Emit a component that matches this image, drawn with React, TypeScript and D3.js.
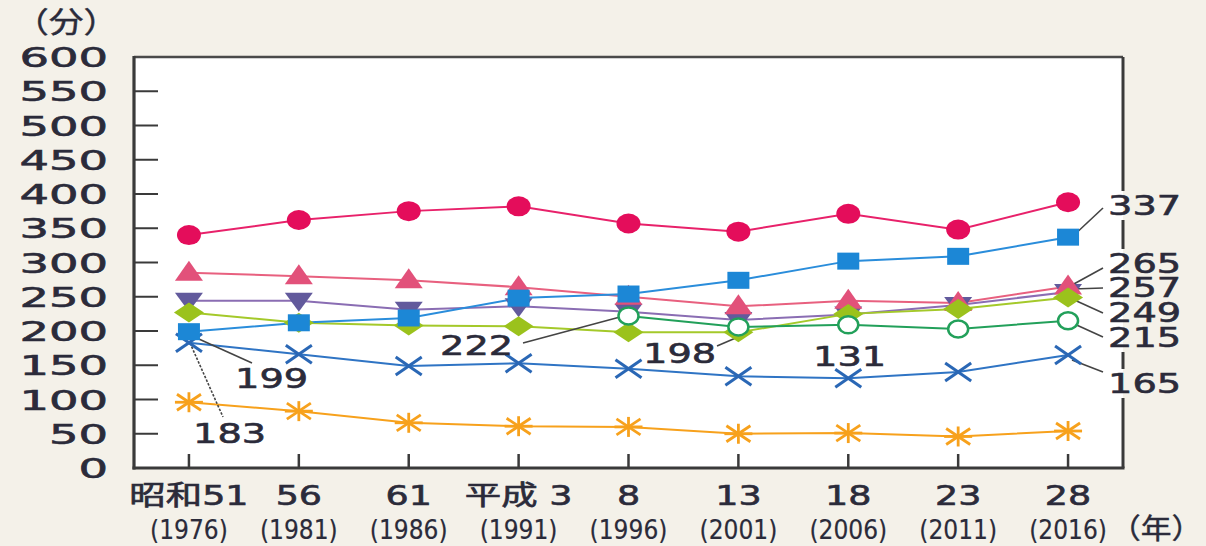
import React from "react";
import * as d3 from "d3";

const categories = ["昭和51", "56", "61", "平成 3", "8", "13", "18", "23", "28"];
const years = ["(1976)", "(1981)", "(1986)", "(1991)", "(1996)", "(2001)", "(2006)", "(2011)", "(2016)"];
const yTicks = [0, 50, 100, 150, 200, 250, 300, 350, 400, 450, 500, 550, 600];

const redCircle = [340, 362, 375, 382, 357, 345, 371, 348, 388];
const blueSquare = [199, 212, 219, 248, 254, 274, 302, 309, 337];
const pinkTriangle = [285, 280, 274, 264, 250, 236, 244, 241, 265];
const purpleTriangle = [244, 244, 231, 236, 228, 216, 224, 238, 257];
const greenDiamond = [227, 212, 208, 207, 198, 198, 225, 232, 249];
const greenOpen: (number | null)[] = [null, null, null, null, 222, 206, 209, 203, 215];
const blueCross = [183, 166, 149, 153, 145, 134, 131, 140, 165];
const orangeStar = [96, 83, 66, 61, 60, 50, 51, 46, 54];

type Series = { name: string; values: (number | null)[]; color: string; marker: string; line: string };
const series: Series[] = [
  { name: "orange", values: orangeStar, color: "#f7a11c", line: "#f7a11c", marker: "star" },
  { name: "cross", values: blueCross, color: "#2a67b5", line: "#2f74c4", marker: "cross" },
  { name: "purple", values: purpleTriangle, color: "#625a9c", line: "#8a6db3", marker: "inv" },
  { name: "pink", values: pinkTriangle, color: "#e2517a", line: "#e8607f", marker: "tri" },
  { name: "diamond", values: greenDiamond, color: "#9bc21c", line: "#a4c92a", marker: "diamond" },
  { name: "open", values: greenOpen, color: "#22a05a", line: "#22a05a", marker: "open" },
  { name: "square", values: blueSquare, color: "#1c87d6", line: "#2a8ddb", marker: "square" },
  { name: "red", values: redCircle, color: "#e40d5b", line: "#e8216a", marker: "circle" },
];

type Ann = { values: (number | null)[]; idx: number; lx: number; ly: number; ex?: number; ey?: number; sx?: number; sy?: number; dash?: string; right?: boolean };
const annotations: Ann[] = [
  { values: blueSquare, idx: 0, lx: 235, ly: 388, sx: 190, sy: 335, ex: 252, ey: 363 },
  { values: blueCross, idx: 0, lx: 193, ly: 443, sx: 190, sy: 343, ex: 223, ey: 417, dash: "2.5 1.5" },
  { values: greenOpen, idx: 4, lx: 440, ly: 355, sx: 620, sy: 317, ex: 523, ey: 343 },
  { values: greenDiamond, idx: 5, lx: 643, ly: 363, sx: 738, sy: 337, ex: 717, ey: 346 },
  { values: blueCross, idx: 6, lx: 813, ly: 366 },
  { values: blueSquare, idx: 8, lx: 1108, ly: 215, sx: 1072, sy: 237, ex: 1103, ey: 208, right: true },
  { values: pinkTriangle, idx: 8, lx: 1108, ly: 273, sx: 1072, sy: 285, ex: 1103, ey: 268, right: true },
  { values: purpleTriangle, idx: 8, lx: 1108, ly: 297, sx: 1073, sy: 289, ex: 1103, ey: 288, right: true },
  { values: greenDiamond, idx: 8, lx: 1108, ly: 322, sx: 1070, sy: 298, ex: 1103, ey: 313, right: true },
  { values: greenOpen, idx: 8, lx: 1108, ly: 347, sx: 1070, sy: 322, ex: 1103, ey: 337, right: true },
  { values: blueCross, idx: 8, lx: 1108, ly: 393, sx: 1072, sy: 360, ex: 1103, ey: 372, right: true },
];

const W = 1206, H = 546;
const L = 134, R = 1123, T = 57, B = 468;
const TXT = "#2b2b3a";
const FONT = "'DejaVu Sans', 'Noto Sans CJK JP', sans-serif";

const x = d3.scalePoint<string>().domain(categories).range([L, R]).padding(0.5);
const y = d3.scaleLinear().domain([0, 600]).range([B, T]);

function Txt({ x, y, size, sx, anchor = "start", children, family = FONT, bold = 0.6 }: any) {
  return (
    <text
      transform={`translate(${x},${y}) scale(${sx},1)`}
      fontSize={size}
      fontFamily={family}
      fill={TXT}
      stroke={TXT}
      strokeWidth={bold}
      textAnchor={anchor}
    >
      {children}
    </text>
  );
}

function Marker({ type, cx, cy, color }: { type: string; cx: number; cy: number; color: string }) {
  switch (type) {
    case "circle":
      return <ellipse cx={cx} cy={cy} rx={12} ry={10} fill={color} />;
    case "square":
      return <rect x={cx - 11} y={cy - 8.5} width={22} height={17} fill={color} />;
    case "tri":
      return <polygon points={`${cx},${cy - 12} ${cx + 14},${cy + 8} ${cx - 14},${cy + 8}`} fill={color} />;
    case "inv":
      return <polygon points={`${cx - 14},${cy - 8} ${cx + 14},${cy - 8} ${cx},${cy + 11}`} fill={color} />;
    case "diamond":
      return <polygon points={`${cx - 15},${cy} ${cx},${cy - 10} ${cx + 15},${cy} ${cx},${cy + 10}`} fill={color} />;
    case "open":
      return <ellipse cx={cx} cy={cy} rx={10} ry={8.5} fill="#fff" stroke={color} strokeWidth={2.5} />;
    case "cross":
      return (
        <g stroke={color} strokeWidth={3}>
          <line x1={cx - 13} y1={cy - 9} x2={cx + 13} y2={cy + 9} />
          <line x1={cx - 13} y1={cy + 9} x2={cx + 13} y2={cy - 9} />
        </g>
      );
    case "star":
      return (
        <g stroke={color} strokeWidth={2.8}>
          <line x1={cx - 12} y1={cy - 8} x2={cx + 12} y2={cy + 8} />
          <line x1={cx - 12} y1={cy + 8} x2={cx + 12} y2={cy - 8} />
          <line x1={cx - 14} y1={cy} x2={cx + 14} y2={cy} />
          <line x1={cx} y1={cy - 10} x2={cx} y2={cy + 10} />
        </g>
      );
    default:
      return null;
  }
}

export default function App() {
  const line = d3
    .line<number | null>()
    .defined((d) => d !== null)
    .x((_, i) => x(categories[i]) as number)
    .y((d) => y(d as number));

  const gaps = annotations.filter((a) => a.right).map((a) => [a.ly - 24, a.ly + 5]).sort((a, b) => a[0] - b[0]);
  const segs: [number, number][] = [];
  let cur = T;
  gaps.forEach(([g0, g1]) => {
    if (g0 > cur) segs.push([cur, g0]);
    cur = Math.max(cur, g1);
  });
  if (cur < B) segs.push([cur, B]);

  return (
    <svg width={W} height={H} style={{ position: "absolute", left: 0, top: 0, background: "#f4f1e9" }}>
      <rect x={0} y={0} width={W} height={H} fill="#f4f1e9" />
      <rect x={L} y={T} width={R - L} height={B - T} fill="#ffffff" />

      <line x1={L} y1={T} x2={R} y2={T} stroke="#4a4a4a" strokeWidth={2.5} />
      {segs.map(([a, b], i) => (
        <line key={i} x1={R} y1={a} x2={R} y2={b} stroke="#3a3a3a" strokeWidth={3} />
      ))}

      {yTicks.map((t) => (
        <g key={t}>
          {t > 0 && t < 600 && <line x1={L} x2={L + 24} y1={y(t)} y2={y(t)} stroke="#3a3a3a" strokeWidth={2} />}
          <Txt x={108} y={y(t) + 10} size={27} sx={1.72} anchor="end">
            {t}
          </Txt>
        </g>
      ))}

      {categories.map((c, i) => (
        <g key={c}>
          <line x1={x(c)} x2={x(c)} y1={B} y2={B - 14} stroke="#3a3a3a" strokeWidth={2.5} />
          <Txt x={x(c)} y={505} size={27} sx={1.35} anchor="middle">
            {c}
          </Txt>
          <Txt x={x(c)} y={539} size={26} sx={0.9} anchor="middle" bold={0.2}>
            {years[i]}
          </Txt>
        </g>
      ))}

      <line x1={L} y1={T - 1} x2={L} y2={B + 1.5} stroke="#3a3a3a" strokeWidth={3.2} />
      <line x1={L - 1.5} y1={B} x2={R + 1.5} y2={B} stroke="#3a3a3a" strokeWidth={3.2} />

      <Txt x={14} y={33} size={29} sx={1.2} family="'Noto Sans CJK JP', sans-serif" bold={0.4}>
        （分）
      </Txt>
      <Txt x={1110} y={539} size={28} sx={1.1} family="'Noto Sans CJK JP', sans-serif" bold={0.4}>
        （年）
      </Txt>

      {series.map((s) => (
        <path key={s.name} d={line(s.values) || ""} fill="none" stroke={s.line} strokeWidth={2} />
      ))}

      {annotations
        .filter((a) => a.ex !== undefined)
        .map((a, i) => (
          <line key={i} x1={a.sx} y1={a.sy} x2={a.ex} y2={a.ey} stroke="#444" strokeWidth={1.6} strokeDasharray={a.dash} />
        ))}

      {series.map((s) =>
        s.values.map((v, i) =>
          v === null ? null : <Marker key={s.name + i} type={s.marker} cx={x(categories[i]) as number} cy={y(v)} color={s.color} />
        )
      )}

      {annotations.map((a, i) => (
        <Txt key={i} x={a.lx} y={a.ly} size={27} sx={1.42}>
          {a.values[a.idx]}
        </Txt>
      ))}
    </svg>
  );
}
